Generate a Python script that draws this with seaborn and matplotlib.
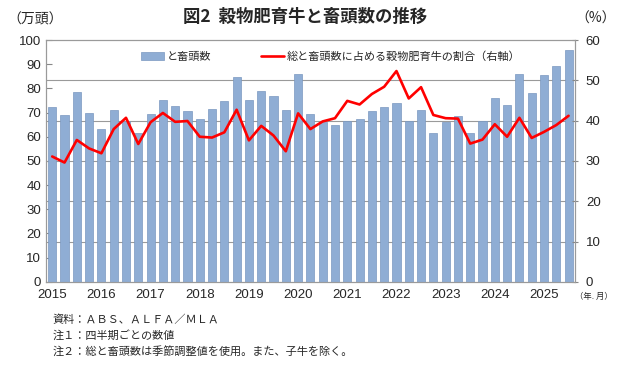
import numpy as np
import pandas as pd
import matplotlib
matplotlib.use("Agg")
import matplotlib.pyplot as plt
import seaborn as sns

# quarterly data, 2015Q1 - 2025Q3
years = list(range(2015, 2026))
quarters = [f"{y}Q{q}" for y in years for q in range(1, 5)][:43]

# slaughter head count (10k head)
slaughter = [72.4, 69.0, 78.4, 69.8, 63.0, 71.0, 66.5, 61.5, 69.6, 75.3, 72.8,
             70.7, 67.2, 71.5, 74.7, 84.6, 75.1, 78.9, 76.9, 71.1, 86.0, 69.4,
             66.0, 64.9, 66.5, 67.4, 70.7, 72.5, 74.0, 66.5, 71.1, 61.6, 66.3,
             68.7, 61.5, 66.5, 76.0, 73.0, 85.8, 78.1, 85.5, 89.2, 95.8]

# share of grain-fed cattle (%, right axis)
grain_share = [31.1, 29.6, 35.2, 33.1, 31.9, 37.9, 40.7, 34.2, 39.6, 41.9, 39.7,
               39.9, 36.0, 35.8, 37.1, 42.7, 35.1, 38.7, 36.3, 32.4, 41.8, 37.9,
               39.8, 40.6, 44.9, 44.0, 46.6, 48.4, 52.3, 45.5, 48.3, 41.4, 40.6,
               40.5, 34.3, 35.3, 39.1, 36.0, 40.7, 35.7, 37.2, 38.9, 41.2]

bar_label = "と畜頭数"
line_label = "総と畜頭数に占める穀物肥育牛の割合（右軸）"
notes = ["資料：ＡＢＳ、ＡＬＦＡ／ＭＬＡ",
         "注１：四半期ごとの数値",
         "注２：総と畜頭数は季節調整値を使用。また、子牛を除く。"]

df = pd.DataFrame({"quarter": quarters, "slaughter": slaughter,
                   "share": grain_share, "pos": np.arange(len(quarters))})

sns.set_style("white")
plt.rcParams["font.family"] = ["Noto Sans CJK JP", "DejaVu Sans"]

fig = plt.figure(figsize=(6.4, 3.67), dpi=100)
ax = fig.add_axes([0.072, 0.232, 0.826, 0.659])

bar_color = "#8FADD4"
sns.barplot(data=df, x="quarter", y="slaughter", color=bar_color, width=0.66,
            saturation=1, edgecolor="#7A98C0", linewidth=0.5, ax=ax,
            label=bar_label)
for p in ax.patches:
    p.set_zorder(3)

ax2 = ax.twinx()
sns.lineplot(data=df, x="pos", y="share", color="#FF0000", linewidth=1.9,
             ax=ax2, label=line_label)

ax.set_xlim(-0.5, len(quarters) - 0.5)
ax.set_ylim(0, 100)
ax2.set_ylim(0, 60)
ax.set_yticks(range(0, 101, 10))
ax2.set_yticks(range(0, 61, 10))

# gridlines follow right axis ticks
for k in range(1, 6):
    ax.axhline(k * 100 / 6, color="#9A9A9A", linewidth=0.8, zorder=1)

ax.set_xticks(range(0, len(quarters), 4))
ax.set_xticklabels([str(y) for y in years], fontfamily="Liberation Sans", fontsize=9.5)
ax.set_xticks(np.arange(-0.5, len(quarters), 1), minor=True)
ax.tick_params(axis="x", which="major", length=0, pad=5)
ax.tick_params(axis="x", which="minor", length=3, color="#888888", direction="out")
ax.tick_params(axis="y", length=4, color="#888888", direction="in", labelsize=9.5)
ax2.tick_params(axis="y", length=4, color="#888888", direction="inout", labelsize=9.5, pad=6)
for lbl in ax.get_yticklabels() + ax2.get_yticklabels():
    lbl.set_fontfamily("Liberation Sans")

ax.set_xlabel("")
ax.set_ylabel("")
ax2.set_xlabel("")
ax2.set_ylabel("")

for a in (ax, ax2):
    for s in a.spines.values():
        s.set_color("#9A9A9A")
        s.set_linewidth(0.8)

h1, l1 = ax.get_legend_handles_labels()
h2, l2 = ax2.get_legend_handles_labels()
if ax.get_legend():
    ax.get_legend().remove()
ax2.legend(h1 + h2, [bar_label, line_label], loc="upper center", ncol=2,
           frameon=False, fontsize=8, bbox_to_anchor=(0.539, 0.995),
           handlelength=2.0, columnspacing=4.5, handletextpad=0.3)

fig.text(0.477, 0.955, "図2  穀物肥育牛と畜頭数の推移", ha="center", va="center",
         fontsize=12.5, fontweight="bold")
fig.text(0.055, 0.948, "（万頭）", ha="center", va="center", fontsize=10)
fig.text(0.93, 0.948, "（%）", ha="center", va="center", fontsize=10)
fig.text(0.928, 0.193, "（年. 月）", ha="center", va="center", fontsize=6)

for i, t in enumerate(notes):
    fig.text(0.082, 0.128 - i * 0.043, t, ha="left", va="center", fontsize=8)

fig.savefig("out.png", dpi=100)
